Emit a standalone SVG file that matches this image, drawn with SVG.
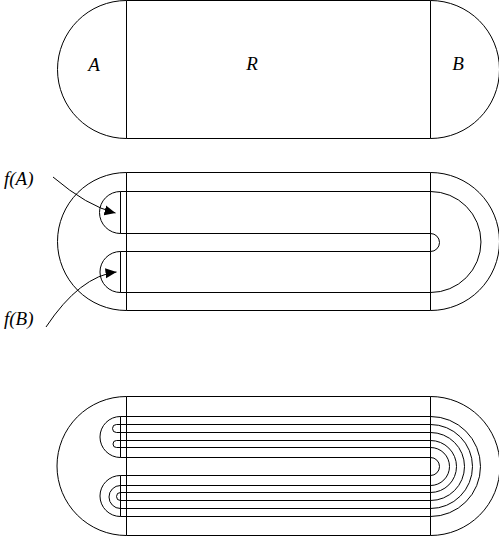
<svg xmlns="http://www.w3.org/2000/svg" width="499" height="536" viewBox="0 0 499 536">
<style>
.ln{fill:none;stroke:#000;stroke-width:1}
.lbl{font-family:"Liberation Serif","Times New Roman",serif;font-style:italic;font-size:19px;fill:#000}
</style>
<defs>
<marker id="ah" markerUnits="userSpaceOnUse" markerWidth="12" markerHeight="12" viewBox="0 0 12 12" refX="11" refY="6" orient="auto">
<path d="M0 1 L11 6 L0 11 Z" fill="#000"/>
</marker>
</defs>
<rect width="499" height="536" fill="#fff"/>
<g id="top-stadium">
<path class="ln" d="M126.5 0.5 H430.5 A69 69 0 0 1 430.5 138.5 H126.5 A69 69 0 0 1 126.5 0.5 Z"/>
<path class="ln" d="M126.5 0.5 V138.5 M430.5 0.5 V138.5"/>
<text class="lbl" x="94" y="71" text-anchor="middle">A</text>
<text class="lbl" x="252" y="70" text-anchor="middle">R</text>
<text class="lbl" x="458" y="70" text-anchor="middle">B</text>
</g>
<g id="mid-stadium">
<path class="ln" d="M126.5 172.5 H430.5 A69 69 0 0 1 430.5 310.5 H126.5 A69 69 0 0 1 126.5 172.5 Z"/>
<path class="ln" d="M126.5 172.5 V310.5 M430.5 172.5 V310.5"/>
<path class="ln" d="M120.5 191.5 H430.5 A50.5 50.5 0 0 1 430.5 292.5 H120.5 A20.5 20.5 0 0 1 120.5 251.5 H430.5 A9 9 0 0 0 430.5 233.5 H120.5 A21 21 0 0 1 120.5 191.5 Z"/>
<path class="ln" d="M120.5 191.5 V233.5 M120.5 251.5 V292.5"/>
</g>
<g id="bottom-stadium">
<path class="ln" d="M126.5 396.5 H430.5 A69.5 69.5 0 0 1 430.5 535.5 H126.5 A69.5 69.5 0 0 1 126.5 396.5 Z"/>
<path class="ln" d="M126.5 396.5 V535.5 M430.5 396.5 V535.5"/>
<path class="ln" d="M120.5 416.5 V457.5 M120.5 475.5 V516.5"/>
<path class="ln" d="M120.5 416.5 H430.5 M116.5 424.5 H430.5 M116.5 432.5 H430.5 M116.5 440.5 H430.5 M116.5 447.5 H430.5 M120.5 457.5 H430.5 M120.5 475.5 H430.5 M120.5 485.5 H430.5 M120.5 492.5 H430.5 M120.5 500.5 H430.5 M120.5 508.5 H430.5 M120.5 516.5 H430.5"/>
<path class="ln" d="M430.5 457.5 A9 9 0 0 1 430.5 475.5 M430.5 447.5 A19 19 0 0 1 430.5 485.5 M430.5 440.5 A26 26 0 0 1 430.5 492.5 M430.5 432.5 A34 34 0 0 1 430.5 500.5 M430.5 424.5 A42 42 0 0 1 430.5 508.5 M430.5 416.5 A50 50 0 0 1 430.5 516.5"/>
<path class="ln" d="M120.5 457.5 A20.5 20.5 0 0 1 120.5 416.5 M116.5 432.5 A4 4 0 0 1 116.5 424.5 M116.5 447.5 A3.5 3.5 0 0 1 116.5 440.5"/>
<path class="ln" d="M120.5 516.5 A20.5 20.5 0 0 1 120.5 475.5 M120.5 508.5 A11.5 11.5 0 0 1 120.5 485.5 M120.5 500.5 A4 4 0 0 1 120.5 492.5"/>
</g>
<g id="label-fA"><text class="lbl" x="4" y="185">f(A)</text></g>
<g id="label-fB"><text class="lbl" x="4" y="325">f(B)</text></g>
<g id="connectors">
<path class="ln" d="M53 177 Q87 206 115.5 213" marker-end="url(#ah)"/>
<path class="ln" d="M46 327 Q80 276 116.5 272" marker-end="url(#ah)"/>
</g>
</svg>
